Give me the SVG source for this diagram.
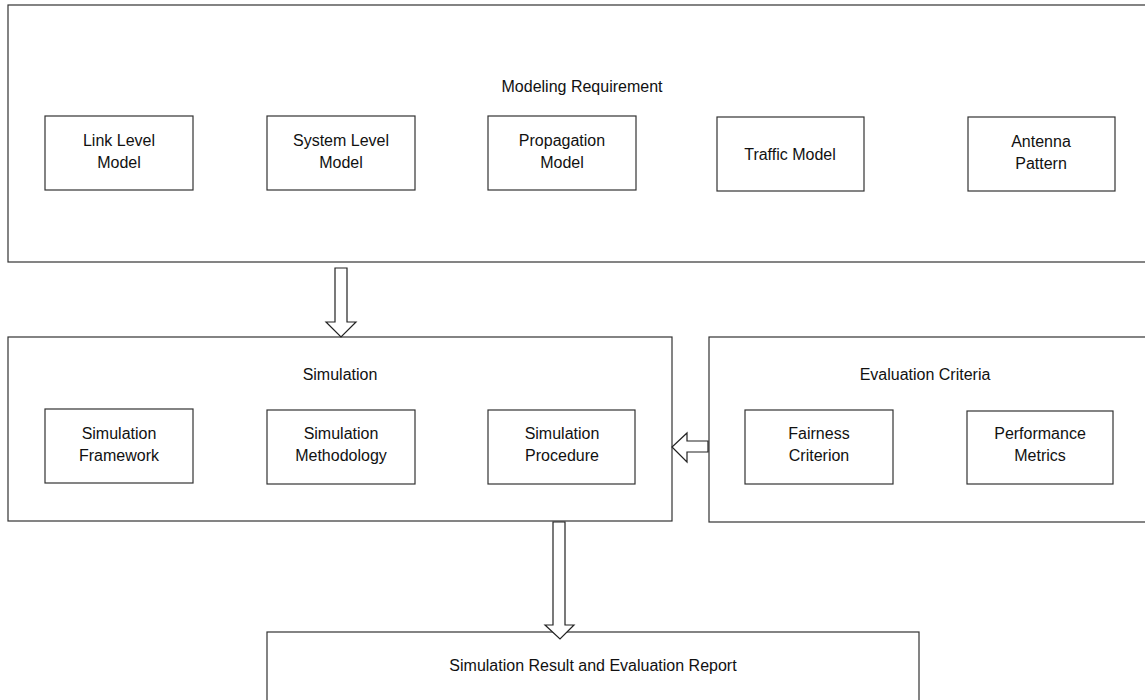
<svg xmlns="http://www.w3.org/2000/svg" width="1145" height="700" viewBox="0 0 1145 700">
<style>
.box{fill:none;stroke:#333;stroke-width:1.2}
.t{font-family:"Liberation Sans",Arial,sans-serif;font-size:16px;fill:#111;text-anchor:middle}
.arr{fill:#fff;stroke:#222;stroke-width:1.2;stroke-linejoin:miter}
</style>
<rect width="1145" height="700" fill="#fff"/>
<g id="modeling-requirement">
<rect class="box" x="8" y="5" width="1150" height="257"/>
<text class="t" x="582" y="92">Modeling Requirement</text>
</g>
<g id="link-level-model">
<rect class="box" x="45" y="116" width="148" height="74"/>
<text class="t" x="119" y="146">Link Level</text>
<text class="t" x="119" y="168">Model</text>
</g>
<g id="system-level-model">
<rect class="box" x="267" y="116" width="148" height="74"/>
<text class="t" x="341" y="146">System Level</text>
<text class="t" x="341" y="168">Model</text>
</g>
<g id="propagation-model">
<rect class="box" x="488" y="116" width="148" height="74"/>
<text class="t" x="562" y="146">Propagation</text>
<text class="t" x="562" y="168">Model</text>
</g>
<g id="traffic-model">
<rect class="box" x="717" y="117" width="147" height="74"/>
<text class="t" x="790" y="160">Traffic Model</text>
</g>
<g id="antenna-pattern">
<rect class="box" x="968" y="117" width="147" height="74"/>
<text class="t" x="1041" y="147">Antenna</text>
<text class="t" x="1041" y="169">Pattern</text>
</g>
<g id="simulation">
<rect class="box" x="8" y="337" width="664" height="184"/>
<text class="t" x="340" y="380">Simulation</text>
</g>
<g id="simulation-framework">
<rect class="box" x="45" y="409" width="148" height="74"/>
<text class="t" x="119" y="439">Simulation</text>
<text class="t" x="119" y="461">Framework</text>
</g>
<g id="simulation-methodology">
<rect class="box" x="267" y="410" width="148" height="74"/>
<text class="t" x="341" y="439">Simulation</text>
<text class="t" x="341" y="461">Methodology</text>
</g>
<g id="simulation-procedure">
<rect class="box" x="488" y="410" width="147" height="74"/>
<text class="t" x="562" y="439">Simulation</text>
<text class="t" x="562" y="461">Procedure</text>
</g>
<g id="evaluation-criteria">
<rect class="box" x="709" y="337" width="450" height="185"/>
<text class="t" x="925" y="380">Evaluation Criteria</text>
</g>
<g id="fairness-criterion">
<rect class="box" x="745" y="410" width="148" height="74"/>
<text class="t" x="819" y="439">Fairness</text>
<text class="t" x="819" y="461">Criterion</text>
</g>
<g id="performance-metrics">
<rect class="box" x="967" y="411" width="146" height="73"/>
<text class="t" x="1040" y="439">Performance</text>
<text class="t" x="1040" y="461">Metrics</text>
</g>
<g id="result-report">
<rect class="box" x="267" y="632" width="652" height="80"/>
<text class="t" x="593" y="671">Simulation Result and Evaluation Report</text>
</g>
<g id="connectors">
<polygon class="arr" points="335,268 347,268 347,322 356,322 341,337 326,322 335,322"/>
<polygon class="arr" points="708,441 687,441 687,433 672,447 687,462 687,452 708,452"/>
<polygon class="arr" points="553,522 565,522 565,625 574,625 560,639 545,625 553,625"/>
</g>
</svg>
